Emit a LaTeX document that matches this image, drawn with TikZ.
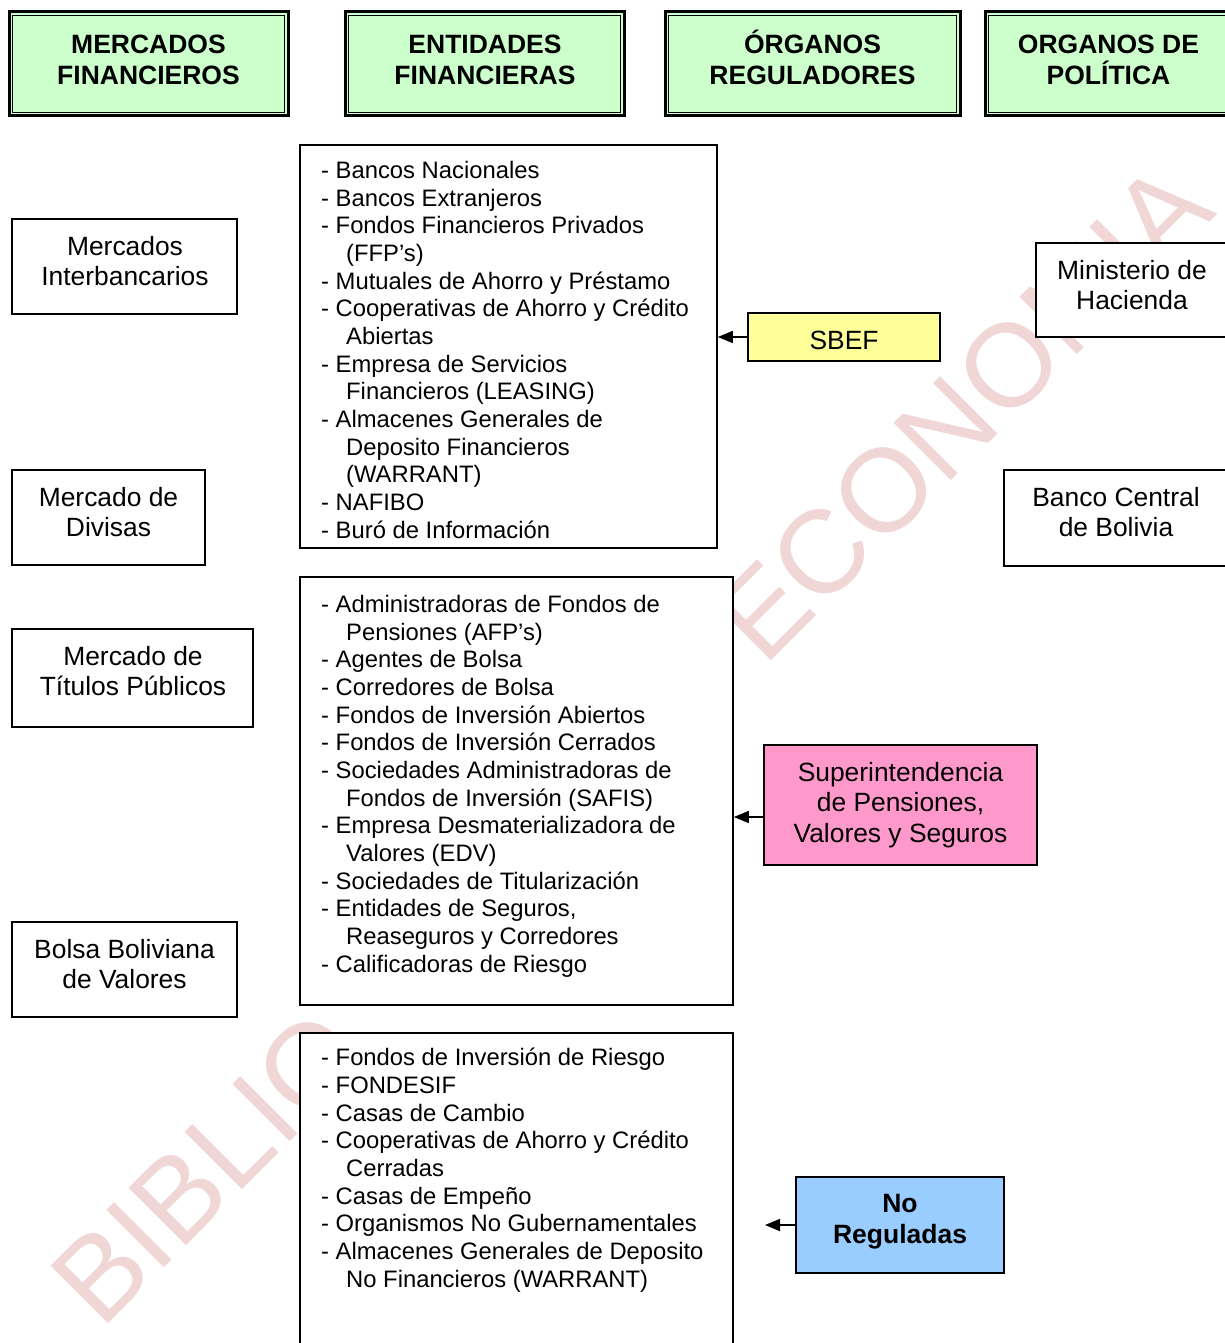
\documentclass[tikz,border=0pt]{standalone}
\usepackage{fontspec}
\setmainfont{Liberation Sans}
\usetikzlibrary{arrows.meta}
\definecolor{hdrgreen}{HTML}{CCFFCC}
\definecolor{sbefyellow}{HTML}{FFFF99}
\definecolor{suppink}{HTML}{FF99CC}
\definecolor{nrblue}{HTML}{99CCFF}
\definecolor{wmpink}{RGB}{241,214,214}
\begin{document}
\begin{tikzpicture}[x=1pt,y=-1pt,
  hdr/.style={draw, line width=3pt, fill=hdrgreen, minimum height=104pt, inner sep=0pt},
  hdrin/.style={line width=1.5pt},
  box/.style={draw, line width=1.6pt, fill=white, inner sep=0pt},
  lbl/.style={align=center, font=\fontsize{26.4}{30.5}\selectfont, inner sep=0pt},
  hlbl/.style={align=center, font=\bfseries\fontsize{26.5}{31}\selectfont, inner sep=0pt},
  lst/.style={align=left, anchor=base west, font=\fontsize{23.8}{27.65}\selectfont, inner sep=0pt},
  arr/.style={-{Triangle[length=15pt,width=12pt]}, line width=1.6pt},
  wm/.style={text=wmpink, font=\fontsize{118}{118}\selectfont, inner sep=0pt, rotate=45, anchor=base west}
]
\useasboundingbox (0,0) rectangle (1225,1343);
\clip (0,0) rectangle (1225,1343);

% watermark
\node[wm] (wm1) at (101,1331) {BIBLIO};
\node[wm] (wm2) at (764,668) {ECONOMIA};

% headers
\node[hdr, minimum width=279pt] (h1) at (148.5,64) {};
\node[hdr, minimum width=279pt] (h2) at (484.5,64) {};
\node[hdr, minimum width=295pt] (h3) at (812.5,64) {};
\node[hdr, minimum width=247pt] (h4) at (1108.5,64) {};
\foreach \h in {h1,h2,h3,h4}{
  \draw[hdrin] ([shift={(5,5)}]\h.north west) rectangle ([shift={(-5,-5)}]\h.south east);
}
\node[hlbl] (h1t) at (148.5,60) {MERCADOS\\FINANCIEROS};
\node[hlbl] (h2t) at (485,60) {ENTIDADES\\FINANCIERAS};
\node[hlbl] (h3t) at (812.5,57) {ÓRGANOS\\REGULADORES};
\node[hlbl] (h4t) at (1108.5,60) {ORGANOS DE\\POLÍTICA};

% left column
\node[box, minimum width=225pt, minimum height=95pt] (mi) at (124.5,266.5) {};
\node[lbl] (mit) at (125,261) {Mercados\\Interbancarios};
\node[box, minimum width=193pt, minimum height=95pt] (md) at (108.5,517.5) {};
\node[lbl] (mdt) at (108.5,512) {Mercado de\\Divisas};
\node[box, minimum width=241pt, minimum height=98pt] (mt) at (132.5,678) {};
\node[lbl] (mtt) at (133,671) {Mercado de\\Títulos Públicos};
\node[box, minimum width=225pt, minimum height=95pt] (bb) at (124.5,969.5) {};
\node[lbl] (bbt) at (124.5,964) {Bolsa Boliviana\\de Valores};

% middle column
\node[box, minimum width=417pt, minimum height=403pt] (l1) at (508.5,346.5) {};
\node[lst] (l1t) at (321,538) {- Bancos Nacionales\\
- Bancos Extranjeros\\
- Fondos Financieros Privados\\
\hspace*{25pt}(FFP’s)\\
- Mutuales de Ahorro y Préstamo\\
- Cooperativas de Ahorro y Crédito\\
\hspace*{25pt}Abiertas\\
- Empresa de Servicios\\
\hspace*{25pt}Financieros (LEASING)\\
- Almacenes Generales de\\
\hspace*{25pt}Deposito Financieros\\
\hspace*{25pt}(WARRANT)\\
- NAFIBO\\
- Buró de Información};

\node[box, minimum width=433pt, minimum height=428pt] (l2) at (516.5,791) {};
\node[lst] (l2t) at (321,972) {- Administradoras de Fondos de\\
\hspace*{25pt}Pensiones (AFP’s)\\
- Agentes de Bolsa\\
- Corredores de Bolsa\\
- Fondos de Inversión Abiertos\\
- Fondos de Inversión Cerrados\\
- Sociedades Administradoras de\\
\hspace*{25pt}Fondos de Inversión (SAFIS)\\
- Empresa Desmaterializadora de\\
\hspace*{25pt}Valores (EDV)\\
- Sociedades de Titularización\\
- Entidades de Seguros,\\
\hspace*{25pt}Reaseguros y Corredores\\
- Calificadoras de Riesgo};

\node[box, minimum width=433pt, minimum height=327pt] (l3) at (516.5,1196.5) {};
\node[lst] (l3t) at (321,1287) {- Fondos de Inversión de Riesgo\\
- FONDESIF\\
- Casas de Cambio\\
- Cooperativas de Ahorro y Crédito\\
\hspace*{25pt}Cerradas\\
- Casas de Empeño\\
- Organismos No Gubernamentales\\
- Almacenes Generales de Deposito\\
\hspace*{25pt}No Financieros (WARRANT)};

% regulators
\node[box, fill=sbefyellow, minimum width=192pt, minimum height=48pt] (sbef) at (844,337) {};
\node[lbl] (sbeft) at (844,340) {SBEF};
\node[box, fill=suppink, minimum width=273pt, minimum height=120pt] (sup) at (900.5,805) {};
\node[lbl] (supt) at (900.5,805) {Superintendencia\\de Pensiones,\\Valores y Seguros};
\node[box, fill=nrblue, minimum width=208pt, minimum height=96pt] (nr) at (900,1225) {};
\node[hlbl] (nrt) at (900,1222) {No\\Reguladas};

% policy
\node[box, minimum width=192pt, minimum height=94pt] (mh) at (1132,290) {};
\node[lbl] (mht) at (1132,285) {Ministerio de\\Hacienda};
\node[box, minimum width=224pt, minimum height=96pt] (bc) at (1116,518) {};
\node[lbl] (bct) at (1116,512) {Banco Central\\de Bolivia};

% connectors
\draw[arr] (sbef.west) -- (sbef.west -| l1.east);
\draw[arr] ([yshift=-12pt]sup.west) -- ([yshift=-12pt]sup.west -| l2.east);
\coordinate (nrend) at (765,1225);
\draw[arr] (nr.west) -- (nrend);
\end{tikzpicture}
\end{document}
